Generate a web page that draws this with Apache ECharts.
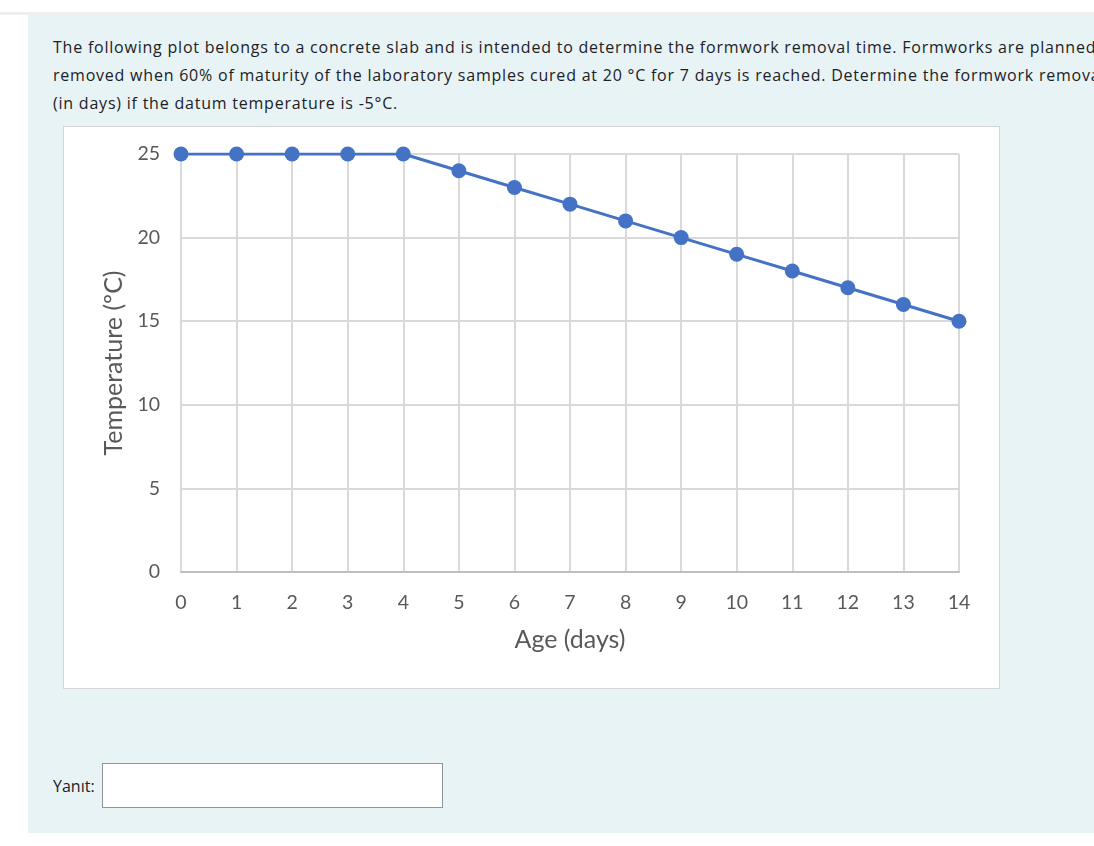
<!DOCTYPE html>
<html>
<head>
<meta charset="utf-8">
<script src="https://cdn.jsdelivr.net/npm/echarts@6/dist/echarts.min.js"></script>
<style>
  html, body { margin: 0; padding: 0; width: 1094px; height: 846px; overflow: hidden; background: #ffffff; font-family: "Open Sans", sans-serif; }
  #topbar { position: absolute; left: 0; top: 12px; width: 1094px; height: 3px; background: #eeeeee; }
  #panel { position: absolute; left: 28px; top: 15px; width: 1066px; height: 818px; background: #e7f3f5; overflow: hidden; }
  #qtext { position: absolute; left: 25px; top: 18px; width: 1200px; font-size: 16px; letter-spacing: 0.78px; line-height: 28px; color: #1d2125; white-space: nowrap; }
  #chartbox { position: absolute; left: 35px; top: 111px; width: 935px; height: 561px; background: #ffffff; border: 1px solid #d6d6d6; }
  #chart { width: 935px; height: 561px; }
  #ans { position: absolute; left: 25px; top: 760px; font-size: 16px; color: #1d2125; }
  #inp { position: absolute; left: 74px; top: 748px; width: 339px; height: 43px; background: #ffffff; border: 1px solid #8f959e; }
</style>
</head>
<body>
<div id="topbar"></div>
<div id="panel">
  <div id="qtext">
    <div>The following plot belongs to a concrete slab and is intended to determine the formwork removal time. Formworks are planned to be</div>
    <div>removed when 60% of maturity of the laboratory samples cured at 20 °C for 7 days is reached. Determine the formwork removal time</div>
    <div>(in days) if the datum temperature is -5°C.</div>
  </div>
  <div id="chartbox"><div id="chart"></div></div>
  <div id="ans">Yanıt:</div>
  <div id="inp"></div>
</div>
<script>
const ageDays = [0, 1, 2, 3, 4, 5, 6, 7, 8, 9, 10, 11, 12, 13, 14];
const temperature = [25, 25, 25, 25, 25, 24, 23, 22, 21, 20, 19, 18, 17, 16, 15];
const xAxisTitle = 'Age (days)';
const yAxisTitle = 'Temperature (ºC)';

const points = ageDays.map((d, i) => [d, temperature[i]]);
const chart = echarts.init(document.getElementById('chart'), null, { renderer: 'canvas' });
const fontFam = 'Lato, "Open Sans", sans-serif';
chart.setOption({
  animation: false,
  grid: { left: 117, top: 27, width: 778, height: 418, containLabel: false },
  xAxis: {
    type: 'value', min: 0, max: 14, interval: 1,
    name: xAxisTitle, nameLocation: 'middle', nameGap: 55,
    nameTextStyle: { color: '#595959', fontSize: 25, fontFamily: fontFam },
    axisLine: { show: true, lineStyle: { color: '#bfbfbf', width: 2 } },
    axisTick: { show: false },
    axisLabel: { color: '#595959', fontSize: 19.5, fontFamily: fontFam, margin: 21 },
    splitLine: { show: true, lineStyle: { color: '#d9d9d9', width: 2 } }
  },
  yAxis: {
    type: 'value', min: 0, max: 25, interval: 5,
    name: yAxisTitle, nameLocation: 'middle', nameGap: 51, nameRotate: 90,
    nameTextStyle: { color: '#595959', fontSize: 25, fontFamily: fontFam },
    axisLine: { show: false },
    axisTick: { show: false },
    axisLabel: { color: '#595959', fontSize: 19.5, fontFamily: fontFam, margin: 21 },
    splitLine: { show: true, lineStyle: { color: '#d9d9d9', width: 2 } }
  },
  series: [{
    type: 'line', data: points,
    symbol: 'circle', symbolSize: 15,
    lineStyle: { color: '#4472c4', width: 3 },
    itemStyle: { color: '#4472c4' }
  }]
});
</script>
</body>
</html>
